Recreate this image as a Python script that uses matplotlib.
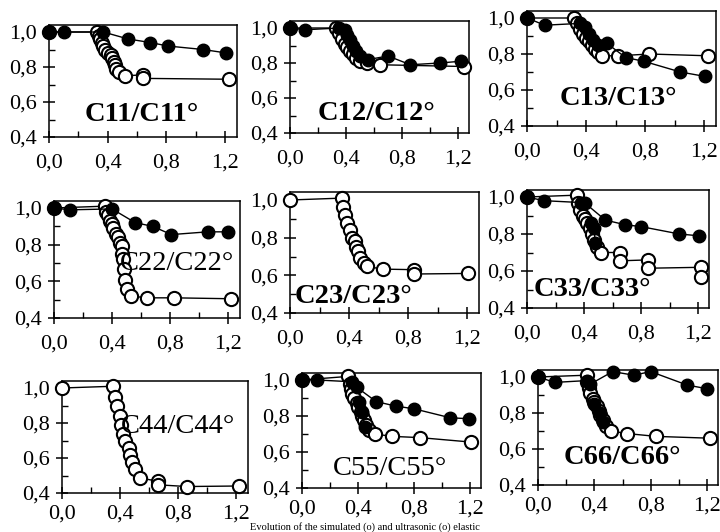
import matplotlib
matplotlib.use('Agg')
import matplotlib.pyplot as plt
import numpy as np

plt.rcParams['font.family'] = ['Liberation Serif', 'DejaVu Serif']

nan = np.nan

# ---- data: (o) simulated = open, ultrasonic = filled ----
c11_sim_x = [0.0, 0.33, 0.34, 0.35, 0.36, 0.37, 0.38, 0.40, 0.42, 0.43, 0.44, 0.45, 0.46, 0.48, 0.52, 0.64, 0.64, 1.23]
c11_sim_y = [1.00, 1.00, 0.98, 0.96, 0.94, 0.92, 0.90, 0.88, 0.87, 0.85, 0.83, 0.81, 0.79, 0.77, 0.75, 0.755, 0.735, 0.73]
c11_ult_x = [0.0, 0.10, 0.37, 0.54, 0.69, 0.81, 1.05, 1.21]
c11_ult_y = [1.00, 1.00, 1.00, 0.96, 0.94, 0.92, 0.90, 0.88]

c12_sim_x = [0.0, 0.33, 0.35, 0.37, 0.39, 0.41, 0.43, 0.45, 0.47, 0.50, 0.55, 0.64, 1.24]
c12_sim_y = [1.00, 1.00, 0.97, 0.94, 0.91, 0.89, 0.87, 0.85, 0.83, 0.81, 0.80, 0.79, 0.78]
c12_ult_x = [0.0, 0.11, 0.35, 0.39, 0.41, 0.43, 0.45, 0.47, 0.50, 0.56, 0.70, 0.86, 1.07, 1.22]
c12_ult_y = [1.00, 0.99, 1.00, 0.99, 0.96, 0.93, 0.90, 0.87, 0.84, 0.82, 0.84, 0.79, 0.80, 0.81]

c13_sim_x = [0.0, 0.32, 0.34, 0.36, 0.38, 0.40, 0.42, 0.44, 0.46, 0.48, 0.51, 0.62, 0.83, 1.23]
c13_sim_y = [1.00, 1.00, 0.97, 0.94, 0.91, 0.89, 0.87, 0.85, 0.83, 0.81, 0.79, 0.79, 0.80, 0.79]
c13_ult_x = [0.0, 0.12, 0.36, 0.39, 0.42, 0.45, 0.48, 0.54, 0.67, 0.79, 1.04, 1.21]
c13_ult_y = [1.00, 0.96, 0.97, 0.95, 0.91, 0.88, 0.85, 0.86, 0.78, 0.76, 0.70, 0.675]

c22_sim_x = [0.0, 0.35, 0.36, 0.37, 0.385, 0.40, 0.41, 0.43, 0.44, 0.455, 0.466, 0.47, 0.477, 0.485, 0.49, 0.50, 0.53, 0.64, 0.83, 1.22]
c22_sim_y = [1.00, 1.01, 0.98, 0.96, 0.93, 0.91, 0.89, 0.86, 0.84, 0.81, 0.79, 0.75, 0.72, 0.67, 0.61, 0.56, 0.52, 0.51, 0.51, 0.505]
c22_ult_x = [0.0, 0.11, 0.40, 0.56, 0.68, 0.81, 1.06, 1.20]
c22_ult_y = [1.00, 0.99, 0.995, 0.92, 0.90, 0.855, 0.87, 0.87]

c23_sim_x = [0.0, 0.35, 0.36, 0.37, 0.385, 0.41, 0.42, 0.44, 0.45, 0.46, 0.475, 0.50, 0.52, 0.63, 0.84, 0.84, 1.21]
c23_sim_y = [1.00, 1.01, 0.965, 0.92, 0.88, 0.84, 0.80, 0.78, 0.75, 0.73, 0.69, 0.665, 0.647, 0.633, 0.63, 0.607, 0.61]
c23_ult_x = []
c23_ult_y = []

c33_sim_x = [0.0, 0.35, 0.36, 0.37, 0.39, 0.41, 0.42, 0.44, 0.455, 0.47, 0.49, 0.52, 0.65, 0.65, 0.85, 0.85, 1.22, 1.22]
c33_sim_y = [1.00, 1.01, 0.97, 0.93, 0.90, 0.88, 0.857, 0.83, 0.80, 0.77, 0.73, 0.70, 0.70, 0.655, 0.66, 0.615, 0.62, 0.57]
c33_ult_x = [0.0, 0.12, 0.38, 0.41, 0.55, 0.69, 0.80, 1.07, 1.21, nan, 0.45, 0.47, 0.48]
c33_ult_y = [1.00, 0.98, 0.97, 0.965, 0.875, 0.85, 0.84, 0.80, 0.79, nan, 0.86, 0.83, 0.75]

c44_sim_x = [0.0, 0.355, 0.366, 0.38, 0.40, 0.41, 0.42, 0.435, 0.46, 0.47, 0.48, 0.50, 0.54, 0.66, 0.66, 0.86, 1.22]
c44_sim_y = [1.00, 1.01, 0.95, 0.895, 0.84, 0.79, 0.74, 0.695, 0.657, 0.62, 0.58, 0.535, 0.486, 0.467, 0.447, 0.437, 0.44]
c44_ult_x = []
c44_ult_y = []

c55_sim_x = [0.0, 0.33, 0.34, 0.35, 0.36, 0.37, 0.39, 0.40, 0.42, 0.43, 0.44, 0.46, 0.48, 0.52, 0.64, 0.84, 1.21]
c55_sim_y = [1.00, 1.02, 0.98, 0.95, 0.92, 0.90, 0.87, 0.85, 0.82, 0.80, 0.78, 0.75, 0.72, 0.70, 0.687, 0.68, 0.655]
c55_ult_x = [0.0, 0.11, 0.36, 0.39, 0.53, 0.67, 0.80, 1.06, 1.19, nan, 0.41, 0.43, 0.45]
c55_ult_y = [1.00, 1.00, 0.99, 0.96, 0.88, 0.855, 0.84, 0.79, 0.785, nan, 0.88, 0.82, 0.74]

c66_sim_x = [0.0, 0.345, 0.35, 0.36, 0.37, 0.39, 0.40, 0.42, 0.43, 0.44, 0.46, 0.48, 0.52, 0.63, 0.84, 1.22]
c66_sim_y = [1.00, 1.01, 0.97, 0.94, 0.91, 0.88, 0.86, 0.84, 0.81, 0.79, 0.76, 0.73, 0.70, 0.686, 0.67, 0.66]
c66_ult_x = [0.0, 0.12, 0.345, 0.37, 0.53, 0.68, 0.80, 1.06, 1.20, nan, 0.40, 0.44, 0.46]
c66_ult_y = [1.00, 0.97, 0.98, 0.96, 1.03, 1.01, 1.03, 0.955, 0.935, nan, 0.85, 0.80, 0.75]

panel_names = ['C11/C11°', 'C12/C12°', 'C13/C13°',
               'C22/C22°', 'C23/C23°', 'C33/C33°',
               'C44/C44°', 'C55/C55°', 'C66/C66°']

xtick_vals = [0.0, 0.4, 0.8, 1.2]
xtick_labels = ['0,0', '0,4', '0,8', '1,2']
ytick_vals = [0.4, 0.6, 0.8, 1.0]
ytick_labels = ['0,4', '0,6', '0,8', '1,0']

caption = 'Evolution of the simulated (o) and ultrasonic (o) elastic'

# ---- layout (pixels in the 720x532 scan) ----
W, H = 720, 532
XMAX, YMAX = 1.28, 1.04
# x pixel of 0.0 and 1.2, y pixel of 1.0 and 0.4 (scan is a bit skewed)
panel_px = [(49, 225, 32, 137), (290, 458, 28, 133), (527, 704, 18, 126),
            (54, 228, 208, 318), (290, 467, 200, 313), (527, 698, 197, 308),
            (62, 236, 388, 493), (302, 470, 380, 488), (538, 707, 377, 485)]
label_pos = [(0.63, 0.53), (0.62, 0.51), (0.62, 0.55),
             (0.85, 0.70), (0.43, 0.49), (0.46, 0.50),
             (0.80, 0.78), (0.63, 0.51), (0.60, 0.55)]
label_weight = ['bold', 'bold', 'bold', 'normal', 'bold', 'bold',
                'normal', 'normal', 'bold']

sims = [(c11_sim_x, c11_sim_y), (c12_sim_x, c12_sim_y), (c13_sim_x, c13_sim_y),
        (c22_sim_x, c22_sim_y), (c23_sim_x, c23_sim_y), (c33_sim_x, c33_sim_y),
        (c44_sim_x, c44_sim_y), (c55_sim_x, c55_sim_y), (c66_sim_x, c66_sim_y)]
ults = [(c11_ult_x, c11_ult_y), (c12_ult_x, c12_ult_y), (c13_ult_x, c13_ult_y),
        (c22_ult_x, c22_ult_y), (c23_ult_x, c23_ult_y), (c33_ult_x, c33_ult_y),
        (c44_ult_x, c44_ult_y), (c55_ult_x, c55_ult_y), (c66_ult_x, c66_ult_y)]


def make_axes(fig, px, xpad=8):
    x0, x12, y10, y04 = px
    sx = (x12 - x0) / 1.2
    sy = (y04 - y10) / 0.6
    rect = [x0 / W, (H - y04) / H, XMAX * sx / W, (YMAX - 0.4) * sy / H]
    ax = fig.add_axes(rect)
    ax.set_xlim(0, XMAX)
    ax.set_ylim(0.4, YMAX)
    for s in ax.spines.values():
        s.set_linewidth(1.1)
    ax.set_xticks(xtick_vals)
    ax.set_xticklabels(xtick_labels)
    ax.set_yticks(ytick_vals)
    ax.set_yticklabels(ytick_labels)
    ax.set_xticks([0.2, 0.6, 1.0], minor=True)
    ax.set_yticks([0.5, 0.7, 0.9], minor=True)
    ax.tick_params(which='major', direction='inout', length=8, width=1.1,
                   labelsize=16)
    ax.tick_params(axis='x', which='major', pad=xpad)
    ax.tick_params(axis='y', which='major', pad=5)
    ax.tick_params(which='minor', direction='in', length=4, width=1.0)
    return ax


fig = plt.figure(figsize=(7.2, 5.32), dpi=100)

for i, px in enumerate(panel_px):
    # bottom row labels sit a little tighter to leave room for the caption
    ax = make_axes(fig, px, xpad=4 if i >= 6 else 8)
    sx_, sy_ = sims[i]
    ax.plot(sx_, sy_, '-o', color='black', mfc='white', mec='black',
            ms=9.5, mew=1.5, lw=1.0, clip_on=False, zorder=3)
    ux_, uy_ = ults[i]
    if len(ux_):
        ax.plot(ux_, uy_, '-o', color='black', mfc='black', mec='black',
                ms=9, lw=1.0, clip_on=False, zorder=4)
    tx, ty = label_pos[i]
    ax.text(tx, ty, panel_names[i], ha='center', va='center', fontsize=20.5,
            fontweight=label_weight[i], zorder=6)

# caption line (cut off in the scan); kept small so it stays inside
fig.text(250 / W, 0.5 / H, caption, ha='left', va='bottom', fontsize=7.5)

fig.savefig('out.png', dpi=100)
